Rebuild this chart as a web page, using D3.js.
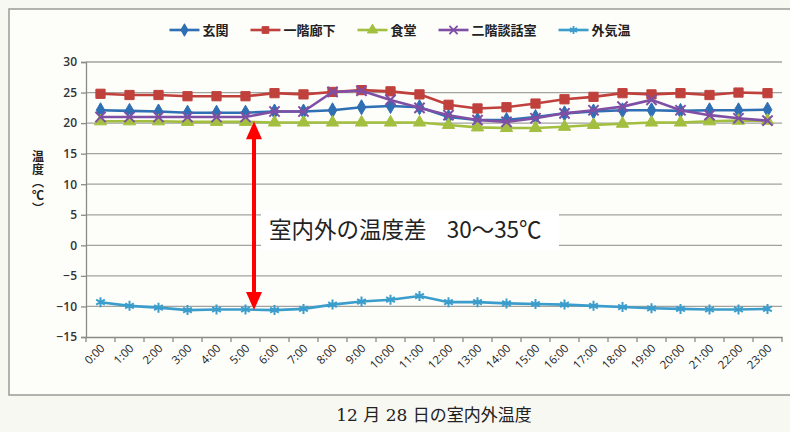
<!DOCTYPE html>
<meta charset="utf-8">
<script src="https://cdn.jsdelivr.net/npm/d3@7"></script>
<style>
body { margin: 0; background: #f8f8f3; }
text { font-family: "Noto Sans CJK JP", sans-serif; fill: #222; }
.tick text { font-family: "Open Sans", "Noto Sans", sans-serif; font-size: 11px; fill: #333; }
</style>
<body>
<div id="chart"></div>
<script>
// hours on x axis
var hours = ["0:00","1:00","2:00","3:00","4:00","5:00","6:00","7:00","8:00","9:00","10:00","11:00",
             "12:00","13:00","14:00","15:00","16:00","17:00","18:00","19:00","20:00","21:00","22:00","23:00"];

var yTicks = [-15,-10,-5,0,5,10,15,20,25,30];

// series values
var genkan    = [22.1,22.0,21.9,21.7,21.7,21.7,21.9,21.9,22.1,22.6,22.8,22.6,21.0,20.5,20.5,21.0,21.6,21.9,22.1,22.1,22.0,22.1,22.1,22.2];
var ikkaiRoka = [24.8,24.6,24.6,24.4,24.4,24.4,24.9,24.7,25.1,25.4,25.2,24.7,23.0,22.4,22.6,23.2,23.9,24.3,24.9,24.7,24.9,24.6,25.0,24.9];
var shokudo   = [20.3,20.3,20.3,20.2,20.2,20.2,20.1,20.1,20.1,20.1,20.1,20.1,19.7,19.3,19.2,19.2,19.4,19.7,19.9,20.1,20.1,20.3,20.4,20.4];
var nikaiDanwa= [21.0,21.0,21.0,21.0,21.0,21.0,21.9,21.9,25.1,25.3,23.8,22.5,21.3,20.5,20.2,20.8,21.6,22.1,22.7,23.8,22.1,21.3,20.8,20.4];
var gaikion   = [-9.3,-9.9,-10.2,-10.6,-10.5,-10.5,-10.6,-10.4,-9.7,-9.2,-8.9,-8.3,-9.3,-9.3,-9.5,-9.6,-9.7,-9.9,-10.1,-10.3,-10.4,-10.5,-10.5,-10.4];

var seriesNames = ["玄関","一階廊下","食堂","二階談話室","外気温"];
var seriesColors = ["#2f6fb3","#c0403c","#a3bf3f","#7f4fa5","#3b9dcc"];
var seriesSymbols = [d3.symbolDiamond, d3.symbolSquare, d3.symbolTriangle, d3.symbolTimes, d3.symbolAsterisk];
var seriesData = [genkan, ikkaiRoka, shokudo, nikaiDanwa, gaikion];

var W = 790, H = 432;
var plot = {left: 86, right: 782, top: 62, bottom: 337};

var svg = d3.select("#chart").append("svg")
    .attr("width", W).attr("height", H);

// chart frame
svg.append("rect")
    .attr("x", 9).attr("y", 9).attr("width", 800).attr("height", 386)
    .attr("fill", "#fdfdfa").attr("stroke", "#9a9a96").attr("stroke-width", 1.5);

var x = d3.scaleBand().domain(hours).range([plot.left, plot.right]);
var y = d3.scaleLinear().domain([-15, 30]).range([plot.bottom, plot.top]);

// gridlines
svg.append("g").selectAll("line")
    .data(yTicks.filter(function(d){ return d > -15; }))
    .enter().append("line")
    .attr("x1", plot.left).attr("x2", plot.right)
    .attr("y1", function(d){ return y(d); }).attr("y2", function(d){ return y(d); })
    .attr("stroke", "#a2a29e").attr("stroke-width", 1.3);

// y axis
var yAxis = svg.append("g")
    .attr("transform", "translate(" + plot.left + ",0)")
    .call(d3.axisLeft(y).tickValues(yTicks).tickSize(5).tickPadding(4));
yAxis.selectAll("path, line").attr("stroke", "#8a8a86").attr("stroke-width", 1.3);
yAxis.selectAll("text").style("font-size", "12px").style("font-weight", "600").attr("fill", "#333");

// y axis title, written vertically
svg.append("text")
    .attr("x", 38).attr("y", 150)
    .style("writing-mode", "vertical-rl")
    .style("font-size", "12px").style("font-weight", "bold")
    .style("letter-spacing", "1px")
    .text("温度（℃）");

// x axis
var xAxis = svg.append("g")
    .attr("transform", "translate(0," + plot.bottom + ")")
    .call(d3.axisBottom(x).tickSize(0).tickFormat(""));
xAxis.select("path").attr("stroke", "#8a8a86").attr("stroke-width", 1.3);
// tick marks between categories
xAxis.selectAll(".sep")
    .data(hours.concat(["end"]))
    .enter().append("line")
    .attr("class", "sep")
    .attr("x1", function(d, i){ return plot.left + i * x.bandwidth(); })
    .attr("x2", function(d, i){ return plot.left + i * x.bandwidth(); })
    .attr("y1", 0).attr("y2", 5)
    .attr("stroke", "#8a8a86").attr("stroke-width", 1.3);
xAxis.selectAll(".lab")
    .data(hours).enter().append("text")
    .attr("class", "lab")
    .attr("transform", function(d){
        return "translate(" + (x(d) + x.bandwidth() / 2 + 5) + ",12) rotate(-45)";
    })
    .attr("text-anchor", "end")
    .style("font-family", "'Open Sans', sans-serif")
    .style("font-size", "11.5px")
    .attr("fill", "#333")
    .text(function(d){ return d; });

// series lines and markers
var line = d3.line()
    .x(function(d, i){ return x(hours[i]) + x.bandwidth() / 2; })
    .y(function(d){ return y(d); });

seriesData.forEach(function(vals, s){
    var g = svg.append("g");
    g.append("path")
        .datum(vals)
        .attr("d", line)
        .attr("fill", "none")
        .attr("stroke", seriesColors[s])
        .attr("stroke-width", 2.6);
    var sym = d3.symbol().type(seriesSymbols[s]).size(s == 1 ? 85 : (s >= 3 ? 70 : 65));
    g.selectAll("path.mk")
        .data(vals).enter().append("path")
        .attr("class", "mk")
        .attr("transform", function(d, i){
            return "translate(" + (x(hours[i]) + x.bandwidth() / 2) + "," + y(d) + ")";
        })
        .attr("d", sym)
        .attr("fill", s >= 3 ? "none" : seriesColors[s])
        .attr("stroke", seriesColors[s])
        .attr("stroke-width", s >= 3 ? 2 : 1);
});

// legend
var legend = svg.append("g");
var lx = 0;
seriesNames.forEach(function(name, s){
    var it = legend.append("g").attr("transform", "translate(" + lx + ",0)");
    it.append("line").attr("x1", 0).attr("x2", 30).attr("y1", 0).attr("y2", 0)
        .attr("stroke", seriesColors[s]).attr("stroke-width", 2.6);
    it.append("path").attr("transform", "translate(15,0)")
        .attr("d", d3.symbol().type(seriesSymbols[s]).size(45))
        .attr("fill", s >= 3 ? "none" : seriesColors[s])
        .attr("stroke", seriesColors[s]).attr("stroke-width", s >= 3 ? 1.8 : 1);
    var t = it.append("text").attr("x", 33).attr("y", 5)
        .style("font-size", "13px").style("font-weight", "bold").attr("fill", "#333")
        .text(name);
    lx += 33 + t.node().getComputedTextLength() + 22;
});
legend.attr("transform", "translate(" + (400 - (lx - 22) / 2) + ",30)");

// red double arrow between indoor and outdoor
var arrowX = 254, arrowTop = y(20.3), arrowBottom = y(-10.6);
svg.append("line")
    .attr("x1", arrowX).attr("x2", arrowX)
    .attr("y1", arrowTop + 16).attr("y2", arrowBottom - 16)
    .attr("stroke", "#ff0000").attr("stroke-width", 4);
svg.append("path")
    .attr("d", d3.line()([[arrowX, arrowTop], [arrowX - 8, arrowTop + 18], [arrowX + 8, arrowTop + 18]]) + "Z")
    .attr("fill", "#ff0000");
svg.append("path")
    .attr("d", d3.line()([[arrowX, arrowBottom], [arrowX - 8, arrowBottom - 18], [arrowX + 8, arrowBottom - 18]]) + "Z")
    .attr("fill", "#ff0000");

// annotation box
svg.append("rect")
    .attr("x", 261).attr("y", 210).attr("width", 298).attr("height", 40)
    .attr("fill", "#ffffff");
svg.append("text")
    .attr("x", 269).attr("y", 238)
    .style("font-size", "22.5px").attr("fill", "#111")
    .text("室内外の温度差\u00a0\u00a0\u00a0\u00a030〜35℃");

// caption below the chart
svg.append("text")
    .attr("x", 434).attr("y", 421)
    .attr("text-anchor", "middle")
    .style("font-family", "'DejaVu Serif', 'Noto Sans CJK JP', serif")
    .style("font-size", "17px").attr("fill", "#222")
    .text("12 月 28 日の室内外温度");
</script>
</body>
